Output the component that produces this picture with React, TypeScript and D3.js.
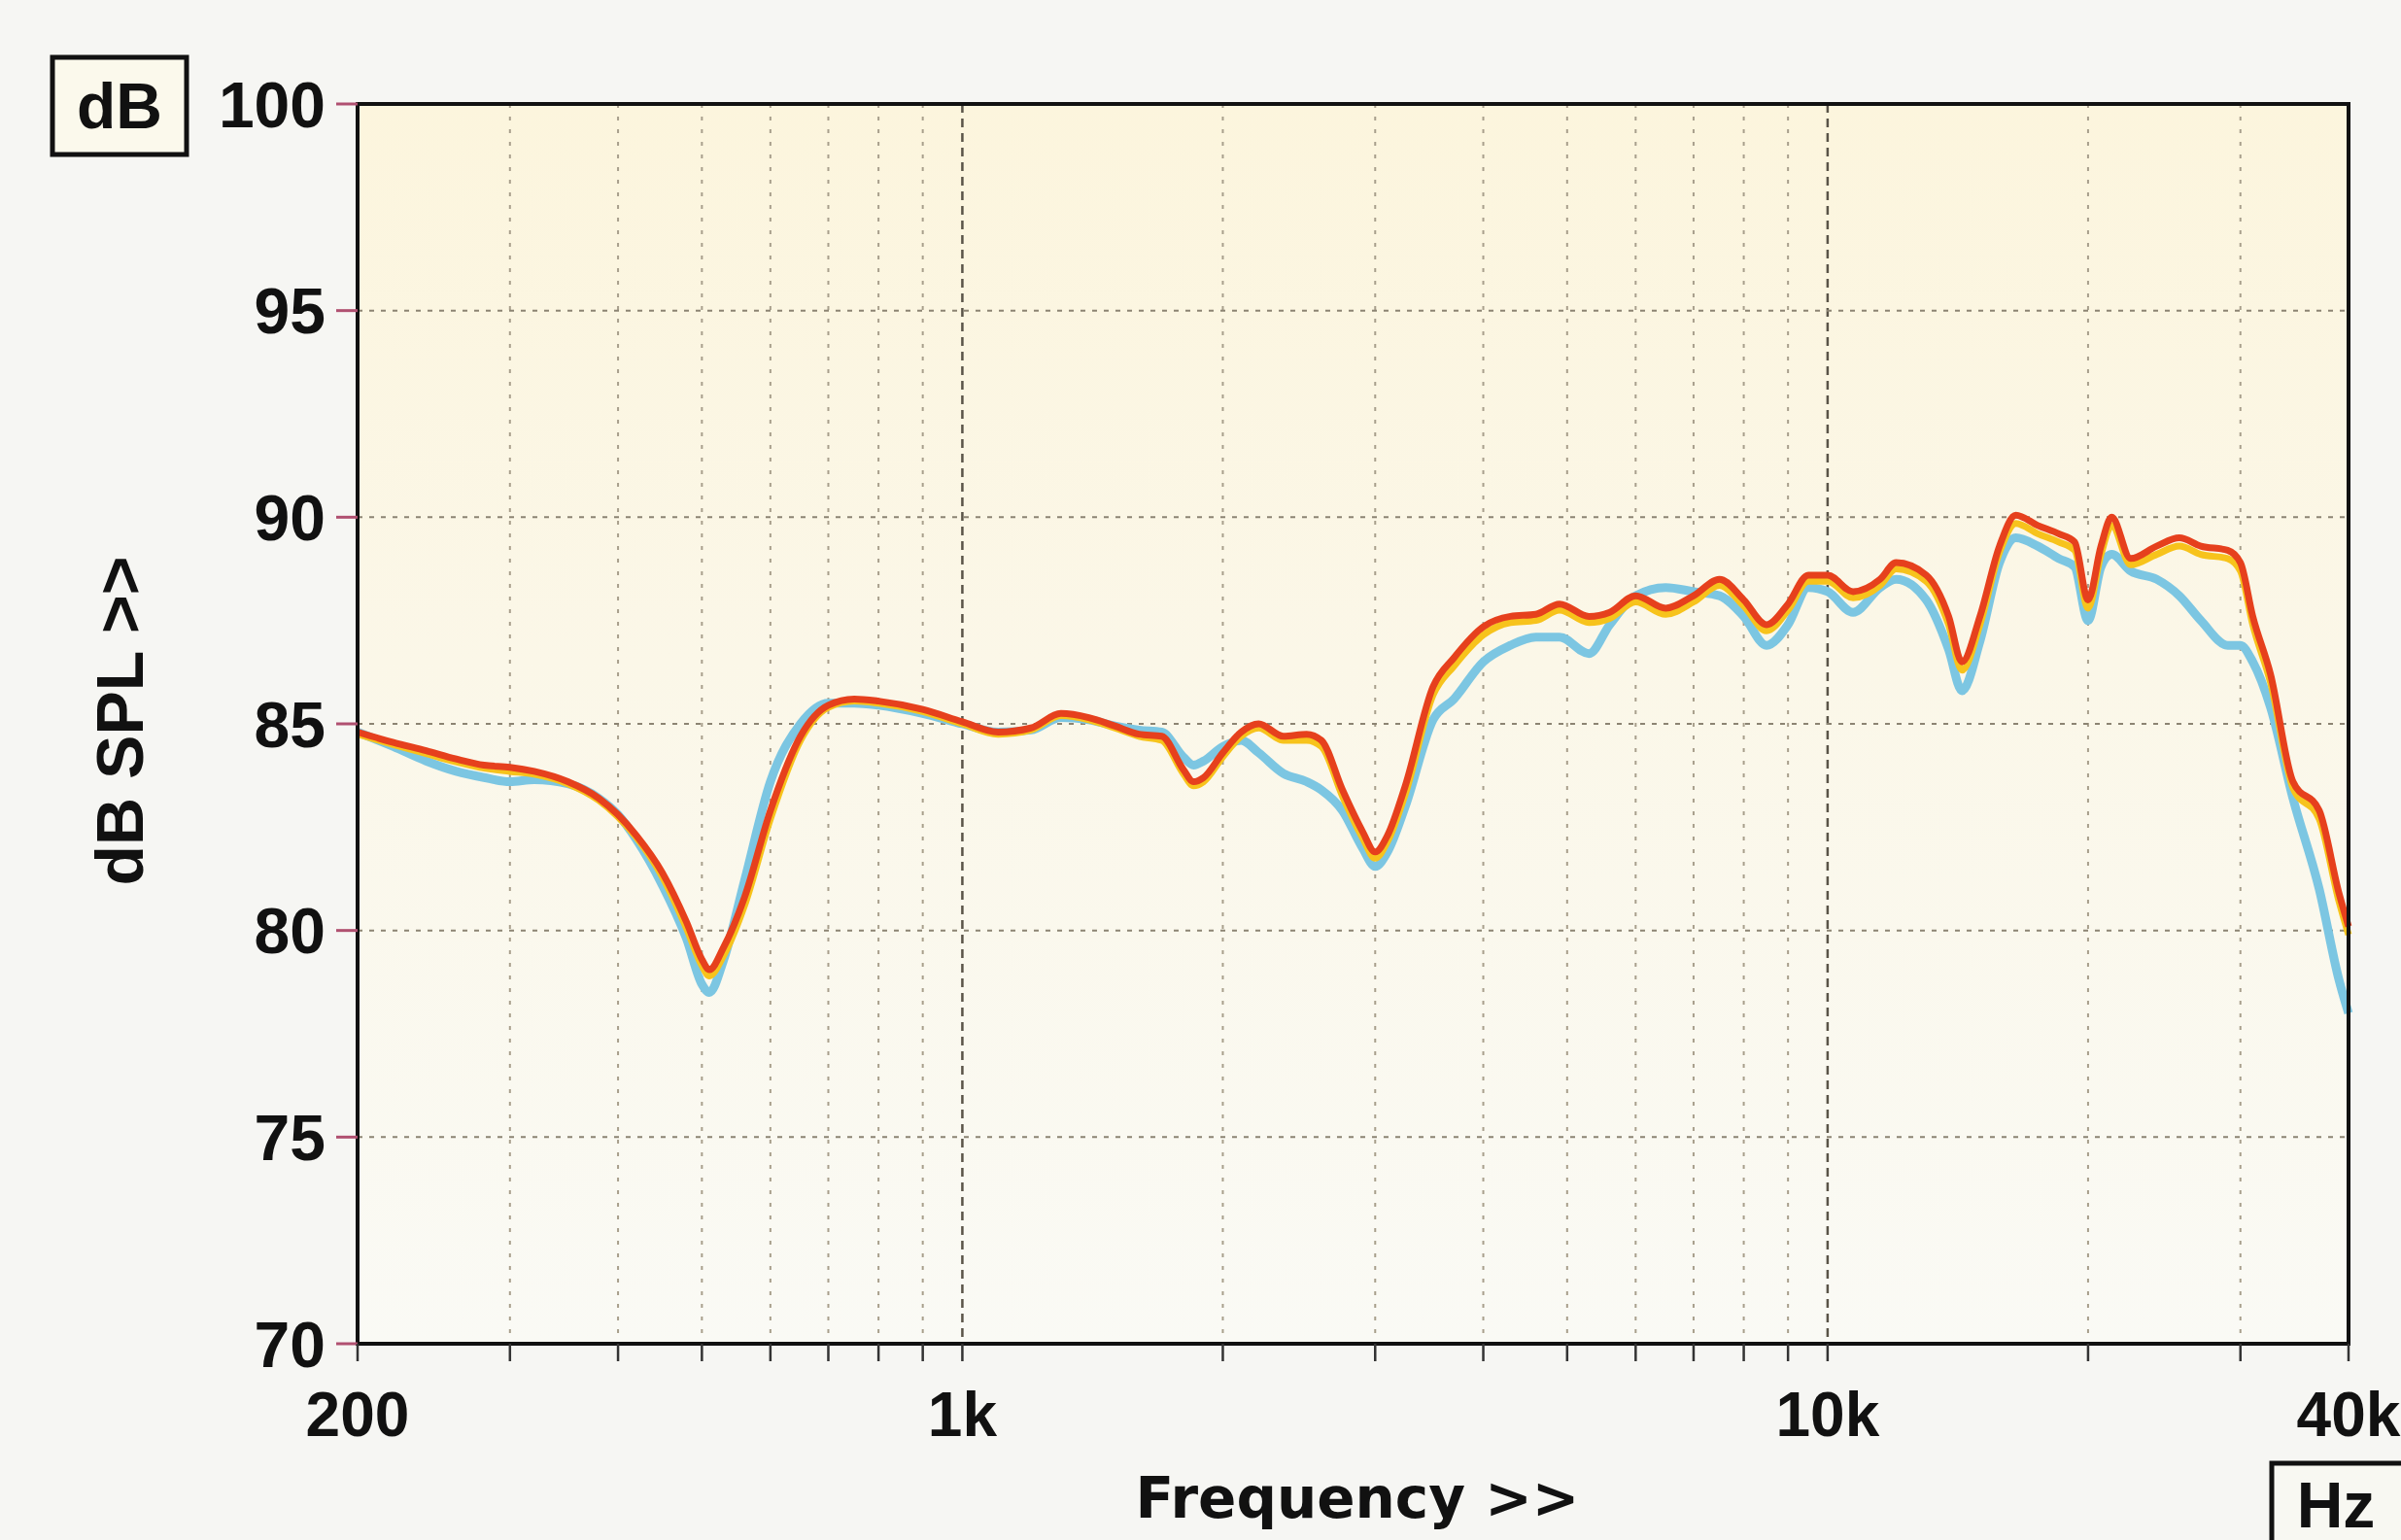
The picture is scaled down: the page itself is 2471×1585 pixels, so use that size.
import React, { useEffect, useRef } from 'react';
import * as d3 from 'd3';

// frequency points (Hz)
const freqs = [
  200, 220, 240, 260, 280, 300, 320, 350, 380, 400,
  420, 450, 480, 500, 510, 530, 560, 600, 650, 700,
  750, 800, 900, 1000, 1100, 1200, 1300, 1400, 1500, 1600,
  1700, 1800, 1850, 1900, 2000, 2100, 2200, 2350, 2500, 2600,
  2750, 2900, 3000, 3100, 3250, 3500, 3700, 4000, 4300, 4600,
  4900, 5300, 5600, 6000, 6500, 7000, 7500, 8000, 8500, 9000,
  9500, 10000, 10700, 11500, 12000, 13000, 13800, 14300, 15000, 15800,
  16500, 17500, 18500, 19300, 20000, 20700, 21300, 22400, 24000, 25500,
  27000, 29000, 30000, 31000, 32500, 34500, 37000, 39000, 40000,
];

const redDb = [
  84.8, 84.55, 84.35, 84.15, 84.0, 83.95, 83.85, 83.6, 83.2, 82.8,
  82.3, 81.4, 80.2, 79.3, 79.05, 79.6, 80.8, 82.9, 84.7, 85.45,
  85.6, 85.55, 85.35, 85.05, 84.8, 84.9, 85.25, 85.15, 84.95, 84.75,
  84.7, 83.9, 83.6, 83.7, 84.3, 84.8, 85.0, 84.7, 84.75, 84.6,
  83.4, 82.4, 81.9, 82.3, 83.5, 85.9, 86.6, 87.35, 87.6, 87.65,
  87.9, 87.6, 87.7, 88.1, 87.8, 88.1, 88.5, 88.0, 87.4, 87.9,
  88.6, 88.6, 88.2, 88.5, 88.9, 88.6, 87.6, 86.5, 87.6, 89.3,
  90.05, 89.8, 89.6, 89.4, 88.0, 89.3, 90.0, 89.0, 89.3, 89.5,
  89.3, 89.2, 88.9, 87.6, 86.2, 83.6, 82.9, 80.9, 80.1,
];

const yellowDb = [
  84.75, 84.5, 84.28, 84.08, 83.93, 83.85, 83.78, 83.55, 83.15, 82.75,
  82.25, 81.3, 80.05, 79.15, 78.9, 79.4, 80.6, 82.7, 84.6, 85.4,
  85.55, 85.5, 85.3, 85.0, 84.75, 84.85, 85.2, 85.1, 84.9, 84.7,
  84.6, 83.8, 83.5, 83.6, 84.2, 84.7, 84.9, 84.6, 84.6, 84.45,
  83.25, 82.25, 81.75, 82.15, 83.3, 85.7, 86.4, 87.15, 87.45, 87.5,
  87.75, 87.45, 87.55, 87.95, 87.65, 87.95, 88.35, 87.85, 87.25, 87.75,
  88.45, 88.45, 88.05, 88.35, 88.75, 88.45, 87.4, 86.3, 87.4, 89.15,
  89.85, 89.6, 89.4, 89.2, 87.8, 89.1, 89.8, 88.85, 89.1, 89.3,
  89.1, 89.0, 88.7, 87.4, 86.0, 83.45, 82.7, 80.7, 79.9,
];

const blueDb = [
  84.8, 84.45, 84.1, 83.85, 83.7, 83.6, 83.65, 83.55, 83.2, 82.8,
  82.2, 81.1, 79.8, 78.7, 78.5, 79.3, 81.2, 83.6, 85.0, 85.5,
  85.5, 85.45, 85.25, 85.0, 84.8, 84.85, 85.15, 85.1, 84.95, 84.85,
  84.8, 84.2, 84.0, 84.1, 84.45, 84.6, 84.3, 83.8, 83.6, 83.4,
  82.9, 82.0, 81.55, 81.9, 83.0, 85.1, 85.6, 86.5, 86.9, 87.1,
  87.1, 86.7, 87.4, 88.1, 88.3, 88.2, 88.1, 87.6, 86.9, 87.4,
  88.3, 88.2, 87.7, 88.3, 88.5, 88.0, 86.8, 85.8, 87.0, 88.9,
  89.5, 89.3, 89.0, 88.8, 87.5, 88.8, 89.1, 88.7, 88.5, 88.1,
  87.5, 86.9, 86.9, 86.5, 85.4, 83.2, 81.0, 78.8, 78.0,
];

const yTicks = [70, 75, 80, 85, 90, 95, 100];
const xTickValues = [200, 1000, 10000, 40000];
const xTickLabels = ['200', '1k', '10k', '40k'];
const majorGrid = [1000, 10000];
const minorGrid = [300, 400, 500, 600, 700, 800, 900, 2000, 3000, 4000, 5000, 6000, 7000, 8000, 9000, 20000, 30000];

const W = 2471;
const H = 1585;

const App = () => {
  const ref = useRef<SVGSVGElement>(null);

  useEffect(() => {
    const left = 368, right = 2417, top = 107, bottom = 1383;
    const svg = d3.select(ref.current);
    svg.selectAll('*').remove();

    const x = d3.scaleLog().domain([200, 40000]).range([left, right]);
    const y = d3.scaleLinear().domain([70, 100]).range([bottom, top]);

    // page background
    svg.append('rect').attr('width', W).attr('height', H).attr('fill', '#f6f6f3');

    const grad = svg.append('defs').append('linearGradient')
      .attr('id', 'plotbg').attr('x1', 0).attr('y1', 0).attr('x2', 0).attr('y2', 1);
    grad.append('stop').attr('offset', '0').attr('stop-color', '#fcf5dd');
    grad.append('stop').attr('offset', '0.45').attr('stop-color', '#fbf7e8');
    grad.append('stop').attr('offset', '1').attr('stop-color', '#fafaf5');

    svg.append('rect')
      .attr('x', left).attr('y', top)
      .attr('width', right - left).attr('height', bottom - top)
      .attr('fill', 'url(#plotbg)');

    // grid
    const grid = svg.append('g');
    grid.selectAll('.minor').data(minorGrid).enter().append('line')
      .attr('x1', d => x(d)).attr('x2', d => x(d))
      .attr('y1', top).attr('y2', bottom)
      .attr('stroke', '#a89f8c').attr('stroke-width', 2).attr('stroke-dasharray', '4 9');
    grid.selectAll('.major').data(majorGrid).enter().append('line')
      .attr('x1', d => x(d)).attr('x2', d => x(d))
      .attr('y1', top).attr('y2', bottom)
      .attr('stroke', '#5a5448').attr('stroke-width', 2.5).attr('stroke-dasharray', '9 6');
    grid.selectAll('.hgrid').data(yTicks.slice(1, -1)).enter().append('line')
      .attr('x1', left).attr('x2', right)
      .attr('y1', d => y(d)).attr('y2', d => y(d))
      .attr('stroke', '#8c8473').attr('stroke-width', 2).attr('stroke-dasharray', '5 7');

    // curves
    const line = d3.line<number>()
      .x((d, i) => x(freqs[i]))
      .y(d => y(d))
      .curve(d3.curveMonotoneX);

    const series = [
      { values: blueDb, color: '#7cc6e2', width: 9 },
      { values: yellowDb, color: '#f7c31c', width: 7 },
      { values: redDb, color: '#e6401d', width: 7 },
    ];
    svg.append('g').selectAll('path').data(series).enter().append('path')
      .attr('d', d => line(d.values))
      .attr('fill', 'none')
      .attr('stroke', d => d.color)
      .attr('stroke-width', d => d.width)
      .attr('stroke-linejoin', 'round');

    // frame
    svg.append('rect')
      .attr('x', left).attr('y', top)
      .attr('width', right - left).attr('height', bottom - top)
      .attr('fill', 'none').attr('stroke', '#111').attr('stroke-width', 4);

    // y ticks + labels
    const yAxis = svg.append('g');
    yAxis.selectAll('line').data(yTicks).enter().append('line')
      .attr('x1', left - 22).attr('x2', left)
      .attr('y1', d => y(d)).attr('y2', d => y(d))
      .attr('stroke', '#b05070').attr('stroke-width', 3);
    yAxis.selectAll('text').data(yTicks).enter().append('text')
      .attr('x', 335).attr('y', d => y(d))
      .attr('dy', '0.36em')
      .attr('text-anchor', 'end')
      .attr('font-family', 'Liberation Sans, Arial, sans-serif')
      .attr('font-weight', 'bold')
      .attr('font-size', 66)
      .attr('fill', '#111')
      .text(d => d);

    // x ticks + labels
    const xAxis = svg.append('g');
    xAxis.selectAll('line').data(minorGrid.concat(majorGrid, [200, 40000])).enter().append('line')
      .attr('x1', d => x(d)).attr('x2', d => x(d))
      .attr('y1', bottom).attr('y2', bottom + 18)
      .attr('stroke', '#333').attr('stroke-width', 2.5);
    xAxis.selectAll('text').data(xTickValues).enter().append('text')
      .attr('x', d => x(d)).attr('y', 1478)
      .attr('text-anchor', 'middle')
      .attr('font-family', 'Liberation Sans, Arial, sans-serif')
      .attr('font-weight', 'bold')
      .attr('font-size', 64)
      .attr('fill', '#111')
      .text((d, i) => xTickLabels[i]);

    // axis titles
    svg.append('text')
      .attr('x', 1397).attr('y', 1562)
      .attr('text-anchor', 'middle')
      .attr('font-family', 'DejaVu Sans, Verdana, sans-serif')
      .attr('font-weight', 'bold')
      .attr('font-size', 58)
      .attr('fill', '#111')
      .text('Frequency >>');

    svg.append('text')
      .attr('transform', 'translate(147,742) rotate(-90)')
      .attr('text-anchor', 'middle')
      .attr('font-family', 'Liberation Sans, Arial, sans-serif')
      .attr('font-weight', 'bold')
      .attr('font-size', 68)
      .attr('fill', '#111')
      .text('dB SPL >>');

    // unit boxes
    svg.append('rect')
      .attr('x', 54).attr('y', 59).attr('width', 138).attr('height', 100)
      .attr('fill', '#fbf9ec').attr('stroke', '#111').attr('stroke-width', 5);
    svg.append('text')
      .attr('x', 123).attr('y', 132)
      .attr('text-anchor', 'middle')
      .attr('font-family', 'Liberation Sans, Arial, sans-serif')
      .attr('font-weight', 'bold')
      .attr('font-size', 66)
      .attr('fill', '#111')
      .text('dB');

    svg.append('rect')
      .attr('x', 2338).attr('y', 1506).attr('width', 160).attr('height', 110)
      .attr('fill', '#f8f8f2').attr('stroke', '#111').attr('stroke-width', 5);
    svg.append('text')
      .attr('x', 2404).attr('y', 1572)
      .attr('text-anchor', 'middle')
      .attr('font-family', 'Liberation Sans, Arial, sans-serif')
      .attr('font-weight', 'bold')
      .attr('font-size', 66)
      .attr('fill', '#111')
      .text('Hz');
  }, []);

  return (
    <svg
      ref={ref}
      width={W}
      height={H}
      style={{ position: 'absolute', left: 0, top: 0, display: 'block' }}
    />
  );
};

export default App;
